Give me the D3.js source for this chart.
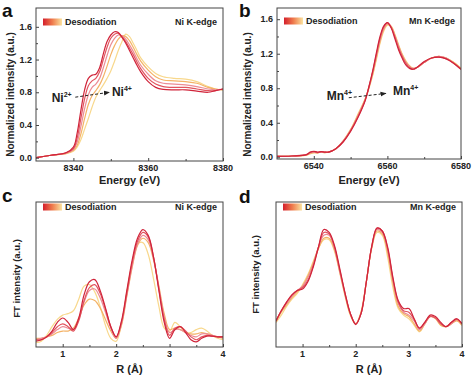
<!DOCTYPE html>
<html>
<head>
<meta charset="utf-8">
<script src="https://cdn.jsdelivr.net/npm/d3@7"></script>
<style>
  body { margin: 0; background: #fff; }
  svg { display: block; font-family: "Liberation Sans", Arial, sans-serif; }
  .tick-label { font-size: 9px; font-weight: bold; fill: #222; }
  .axis-title { font-weight: bold; fill: #222; }
</style>
</head>
<body>
<svg id="chart" width="474" height="377"></svg>
<script>
// series colours, first (red) to last (yellow) in the desodiation sequence
const seriesColors = ["#d0243a", "#e2545f", "#ec8c95", "#f4b266", "#f8d88c"];

// Ni K-edge XANES
const niEnergy = [8330, 8334, 8338, 8340, 8341, 8342, 8343, 8344, 8345, 8346, 8347, 8348, 8349, 8350, 8351, 8352, 8353, 8354, 8355, 8356, 8357, 8358, 8360, 8362, 8364, 8367, 8370, 8373, 8376, 8378, 8380];
const niXanes1 = [0.00, 0.03, 0.06, 0.13, 0.30, 0.58, 0.83, 0.97, 1.01, 1.02, 1.10, 1.27, 1.42, 1.50, 1.54, 1.53, 1.47, 1.40, 1.31, 1.22, 1.13, 1.05, 0.93, 0.86, 0.835, 0.83, 0.83, 0.815, 0.80, 0.82, 0.84];
const niXanes2 = [0.00, 0.03, 0.06, 0.11, 0.24, 0.48, 0.72, 0.88, 0.94, 0.97, 1.05, 1.20, 1.35, 1.46, 1.51, 1.52, 1.48, 1.42, 1.34, 1.26, 1.17, 1.09, 0.97, 0.90, 0.87, 0.86, 0.86, 0.84, 0.82, 0.82, 0.84];
const niXanes3 = [0.00, 0.03, 0.055, 0.10, 0.19, 0.38, 0.60, 0.77, 0.86, 0.90, 0.97, 1.10, 1.25, 1.38, 1.46, 1.50, 1.49, 1.45, 1.38, 1.30, 1.21, 1.13, 1.02, 0.94, 0.91, 0.90, 0.89, 0.87, 0.84, 0.83, 0.84];
const niXanes4 = [0.00, 0.03, 0.05, 0.09, 0.15, 0.29, 0.48, 0.65, 0.76, 0.82, 0.89, 0.99, 1.12, 1.26, 1.37, 1.45, 1.49, 1.48, 1.43, 1.35, 1.26, 1.18, 1.07, 0.99, 0.95, 0.94, 0.93, 0.91, 0.86, 0.84, 0.83];
const niXanes5 = [0.00, 0.03, 0.05, 0.08, 0.13, 0.22, 0.35, 0.48, 0.62, 0.74, 0.82, 0.89, 0.97, 1.06, 1.18, 1.31, 1.42, 1.51, 1.48, 1.40, 1.31, 1.22, 1.11, 1.03, 0.99, 0.97, 0.96, 0.93, 0.87, 0.84, 0.83];

// Mn K-edge XANES
const mnEnergy = [6530, 6534, 6538, 6539, 6540, 6541, 6542, 6543, 6544, 6546, 6548, 6550, 6552, 6554, 6555, 6556, 6557, 6558, 6559, 6560, 6561, 6562, 6563, 6564, 6565, 6566, 6567, 6568, 6570, 6572, 6574, 6576, 6578, 6580];
const mnXanes1 = [0.01, 0.015, 0.03, 0.06, 0.07, 0.06, 0.065, 0.06, 0.06, 0.10, 0.18, 0.30, 0.46, 0.66, 0.82, 1.00, 1.21, 1.40, 1.52, 1.56, 1.50, 1.38, 1.25, 1.15, 1.07, 1.03, 1.02, 1.04, 1.11, 1.15, 1.16, 1.14, 1.09, 1.02];
const mnXanes2 = [0.01, 0.015, 0.03, 0.055, 0.065, 0.055, 0.065, 0.06, 0.06, 0.10, 0.18, 0.31, 0.47, 0.67, 0.82, 0.99, 1.19, 1.38, 1.51, 1.56, 1.51, 1.40, 1.27, 1.17, 1.09, 1.04, 1.02, 1.04, 1.10, 1.15, 1.16, 1.14, 1.09, 1.02];
const mnXanes3 = [0.01, 0.015, 0.03, 0.05, 0.06, 0.055, 0.06, 0.06, 0.06, 0.10, 0.19, 0.31, 0.48, 0.67, 0.81, 0.98, 1.17, 1.36, 1.49, 1.55, 1.51, 1.41, 1.29, 1.18, 1.10, 1.05, 1.03, 1.04, 1.10, 1.15, 1.17, 1.15, 1.09, 1.02];
const mnXanes4 = [0.01, 0.015, 0.025, 0.045, 0.055, 0.05, 0.06, 0.055, 0.06, 0.10, 0.19, 0.32, 0.49, 0.68, 0.81, 0.96, 1.15, 1.34, 1.48, 1.54, 1.52, 1.42, 1.30, 1.19, 1.11, 1.06, 1.03, 1.04, 1.10, 1.15, 1.17, 1.15, 1.10, 1.03];
const mnXanes5 = [0.01, 0.015, 0.025, 0.04, 0.05, 0.05, 0.06, 0.055, 0.06, 0.10, 0.19, 0.32, 0.50, 0.68, 0.80, 0.95, 1.13, 1.32, 1.46, 1.53, 1.52, 1.43, 1.31, 1.20, 1.12, 1.06, 1.03, 1.04, 1.10, 1.15, 1.17, 1.15, 1.10, 1.03];

// Fourier transforms, R in Angstrom
const rGrid = [0.5, 0.6, 0.7, 0.8, 0.9, 1.0, 1.1, 1.2, 1.3, 1.4, 1.5, 1.6, 1.7, 1.8, 1.9, 2.0, 2.1, 2.2, 2.3, 2.4, 2.5, 2.6, 2.7, 2.8, 2.9, 3.0, 3.1, 3.2, 3.3, 3.4, 3.5, 3.6, 3.7, 3.8, 3.9, 4.0];
const niFT1 = [0.04, 0.05, 0.07, 0.11, 0.17, 0.20, 0.17, 0.12, 0.20, 0.36, 0.45, 0.465, 0.39, 0.27, 0.14, 0.07, 0.18, 0.39, 0.60, 0.75, 0.81, 0.77, 0.62, 0.39, 0.17, 0.06, 0.12, 0.14, 0.10, 0.05, 0.035, 0.06, 0.075, 0.075, 0.07, 0.07];
const niFT2 = [0.05, 0.05, 0.07, 0.10, 0.14, 0.16, 0.14, 0.11, 0.18, 0.32, 0.41, 0.43, 0.37, 0.26, 0.14, 0.07, 0.17, 0.37, 0.58, 0.73, 0.79, 0.76, 0.62, 0.40, 0.19, 0.08, 0.13, 0.14, 0.11, 0.07, 0.05, 0.07, 0.08, 0.075, 0.07, 0.07];
const niFT3 = [0.05, 0.06, 0.07, 0.09, 0.12, 0.14, 0.13, 0.12, 0.19, 0.31, 0.39, 0.40, 0.34, 0.24, 0.13, 0.06, 0.16, 0.36, 0.56, 0.71, 0.77, 0.74, 0.61, 0.41, 0.21, 0.10, 0.12, 0.12, 0.10, 0.08, 0.07, 0.09, 0.09, 0.08, 0.07, 0.07];
const niFT4 = [0.06, 0.06, 0.07, 0.08, 0.10, 0.11, 0.11, 0.13, 0.20, 0.29, 0.33, 0.32, 0.27, 0.19, 0.11, 0.06, 0.15, 0.35, 0.55, 0.70, 0.75, 0.72, 0.60, 0.42, 0.23, 0.12, 0.13, 0.12, 0.10, 0.09, 0.09, 0.10, 0.09, 0.08, 0.07, 0.06];
const niFT5 = [0.03, 0.04, 0.08, 0.14, 0.19, 0.22, 0.23, 0.25, 0.33, 0.42, 0.43, 0.38, 0.28, 0.15, 0.06, 0.04, 0.16, 0.38, 0.58, 0.71, 0.72, 0.64, 0.47, 0.28, 0.13, 0.11, 0.17, 0.14, 0.10, 0.10, 0.12, 0.13, 0.11, 0.08, 0.06, 0.05];

const mnFT1 = [0.18, 0.25, 0.31, 0.36, 0.39, 0.40, 0.45, 0.55, 0.69, 0.81, 0.79, 0.70, 0.54, 0.37, 0.23, 0.155, 0.23, 0.45, 0.69, 0.82, 0.80, 0.69, 0.48, 0.32, 0.265, 0.265, 0.195, 0.13, 0.17, 0.22, 0.21, 0.17, 0.14, 0.17, 0.195, 0.16];
const mnFT2 = [0.18, 0.25, 0.31, 0.36, 0.39, 0.41, 0.46, 0.56, 0.69, 0.79, 0.78, 0.69, 0.53, 0.37, 0.23, 0.16, 0.23, 0.45, 0.69, 0.82, 0.80, 0.68, 0.47, 0.31, 0.25, 0.24, 0.19, 0.13, 0.17, 0.21, 0.20, 0.16, 0.14, 0.17, 0.19, 0.16];
const mnFT3 = [0.18, 0.25, 0.30, 0.35, 0.39, 0.42, 0.48, 0.57, 0.69, 0.77, 0.77, 0.68, 0.52, 0.36, 0.23, 0.16, 0.23, 0.45, 0.69, 0.81, 0.79, 0.67, 0.46, 0.30, 0.24, 0.22, 0.18, 0.12, 0.16, 0.21, 0.20, 0.16, 0.14, 0.16, 0.19, 0.16];
const mnFT4 = [0.17, 0.24, 0.29, 0.34, 0.38, 0.42, 0.49, 0.58, 0.68, 0.75, 0.75, 0.67, 0.52, 0.36, 0.22, 0.16, 0.24, 0.45, 0.68, 0.80, 0.78, 0.65, 0.44, 0.28, 0.23, 0.21, 0.16, 0.11, 0.16, 0.21, 0.20, 0.15, 0.14, 0.16, 0.18, 0.15];
const mnFT5 = [0.17, 0.22, 0.28, 0.33, 0.37, 0.43, 0.50, 0.59, 0.68, 0.74, 0.74, 0.66, 0.51, 0.35, 0.22, 0.16, 0.24, 0.45, 0.68, 0.79, 0.77, 0.62, 0.41, 0.265, 0.22, 0.195, 0.15, 0.105, 0.16, 0.21, 0.195, 0.15, 0.14, 0.16, 0.185, 0.15];

// tick values
const niTicks = [8340, 8360, 8380];
const niMinor = [8350, 8370];
const mnTicks = [6540, 6560, 6580];
const mnMinor = [6550, 6570];
const xanesYTicks = [0, 0.4, 0.8, 1.2, 1.6];
const xanesYMinor = [0.2, 0.6, 1.0, 1.4];
const rTicks = [1, 2, 3, 4];
const rMinor = [1.5, 2.5, 3.5];

const svg = d3.select("#chart");

const defs = svg.append("defs");
const grad = defs.append("linearGradient").attr("id", "desod");
grad.append("stop").attr("offset", "0%").attr("stop-color", "#d41f2c");
grad.append("stop").attr("offset", "50%").attr("stop-color", "#ef7d4e");
grad.append("stop").attr("offset", "100%").attr("stop-color", "#fbe3a0");

defs.append("marker")
  .attr("id", "arrow")
  .attr("viewBox", "0 0 10 10")
  .attr("refX", 9).attr("refY", 5)
  .attr("markerWidth", 6).attr("markerHeight", 6)
  .attr("orient", "auto")
  .append("path")
  .attr("d", "M0,1 L10,5 L0,9 Z")
  .attr("fill", "#222");

function drawPanel(cfg) {
  const { box, xDomain, yDomain, xVals, series, xTicks, xMinor, yTicks, yMinor } = cfg;
  const x = d3.scaleLinear().domain(xDomain).range([box.left, box.right]);
  const y = d3.scaleLinear().domain(yDomain).range([box.bottom, box.top]);
  const g = svg.append("g");

  const clipId = "clip-" + cfg.letter;
  defs.append("clipPath").attr("id", clipId)
    .append("rect")
    .attr("x", box.left).attr("y", box.top)
    .attr("width", box.right - box.left).attr("height", box.bottom - box.top);

  const line = d3.line()
    .x((d, i) => x(xVals[i]))
    .y((d) => y(d))
    .curve(d3.curveCatmullRom.alpha(0.5));

  // last series first so the red curve ends on top
  g.append("g").attr("clip-path", `url(#${clipId})`)
    .selectAll("path")
    .data(series.map((s, i) => ({ s, i })).reverse())
    .join("path")
    .attr("d", (d) => line(d.s))
    .attr("fill", "none")
    .attr("stroke", (d) => seriesColors[d.i])
    .attr("stroke-width", 1.2);

  // frame
  g.append("rect")
    .attr("x", box.left).attr("y", box.top)
    .attr("width", box.right - box.left).attr("height", box.bottom - box.top)
    .attr("fill", "none").attr("stroke", "#444").attr("stroke-width", 1);

  // x ticks, pointing inward
  g.append("g").attr("transform", `translate(0,${box.bottom})`)
    .call(d3.axisTop(x).tickValues(xTicks).tickSize(3).tickFormat(""))
    .call((a) => a.select(".domain").remove());
  g.append("g").attr("transform", `translate(0,${box.bottom})`)
    .call(d3.axisTop(x).tickValues(xMinor).tickSize(2).tickFormat(""))
    .call((a) => a.select(".domain").remove());

  g.selectAll(".xlab")
    .data(xTicks)
    .join("text")
    .attr("class", "tick-label")
    .attr("x", (d) => x(d))
    .attr("y", box.bottom + 10)
    .attr("text-anchor", "middle")
    .text((d) => d);

  if (yTicks) {
    g.append("g").attr("transform", `translate(${box.left},0)`)
      .call(d3.axisRight(y).tickValues(yTicks).tickSize(3).tickFormat(""))
      .call((a) => a.select(".domain").remove());
    g.append("g").attr("transform", `translate(${box.left},0)`)
      .call(d3.axisRight(y).tickValues(yMinor).tickSize(2).tickFormat(""))
      .call((a) => a.select(".domain").remove());
    g.selectAll(".ylab")
      .data(yTicks)
      .join("text")
      .attr("class", "tick-label")
      .attr("x", box.left - 4)
      .attr("y", (d) => y(d) + 3.2)
      .attr("text-anchor", "end")
      .text((d) => d.toFixed(1));
  }
  g.selectAll(".tick line").attr("stroke", "#444");

  // axis titles
  g.append("text")
    .attr("class", "axis-title")
    .attr("x", (box.left + box.right) / 2)
    .attr("y", cfg.xTitleY)
    .attr("text-anchor", "middle")
    .attr("font-size", "11px")
    .text(cfg.xTitle);

  g.append("text")
    .attr("class", "axis-title")
    .attr("transform", `translate(${cfg.yTitleX},${(box.top + box.bottom) / 2 + cfg.yTitleShift}) rotate(-90)`)
    .attr("text-anchor", "middle")
    .attr("font-size", cfg.yTitleSize)
    .text(cfg.yTitle);

  // panel letter
  g.append("text")
    .attr("x", cfg.letterX).attr("y", cfg.letterY)
    .attr("font-size", "19px").attr("font-weight", "bold").attr("fill", "#111")
    .text(cfg.letter);

  // legend
  const ly = box.top + cfg.legendDy;
  g.append("rect")
    .attr("x", box.left + 7).attr("y", ly - 3.5)
    .attr("width", 19).attr("height", 7)
    .attr("fill", "url(#desod)");
  g.append("text")
    .attr("x", box.left + 29).attr("y", ly + 3.2)
    .attr("font-size", "9px").attr("font-weight", "bold").attr("fill", "#222")
    .text("Desodiation");
  g.append("text")
    .attr("x", box.right - 6).attr("y", ly + 3.2)
    .attr("text-anchor", "end")
    .attr("font-size", "9px").attr("font-weight", "bold").attr("fill", "#222")
    .text(cfg.edge);

  return { x, y, g };
}

function ionLabel(g, px, py, base, sup) {
  const t = g.append("text")
    .attr("x", px).attr("y", py)
    .attr("font-size", "12px").attr("font-weight", "bold").attr("fill", "#222");
  t.append("tspan").text(base);
  t.append("tspan").attr("dy", -5).attr("font-size", "7px").text(sup);
}

const a = drawPanel({
  letter: "a", letterX: 2, letterY: 17,
  box: { left: 36, right: 223, top: 8, bottom: 161 },
  xDomain: [8330, 8380], yDomain: [-0.04, 1.83],
  xVals: niEnergy,
  series: [niXanes1, niXanes2, niXanes3, niXanes4, niXanes5],
  xTicks: niTicks, xMinor: niMinor, yTicks: xanesYTicks, yMinor: xanesYMinor,
  xTitle: "Energy (eV)", xTitleY: 184,
  yTitle: "Normalized intensity (a.u.)", yTitleX: 13.5, yTitleShift: 10, yTitleSize: "10px",
  legendDy: 14, edge: "Ni K-edge"
});
ionLabel(a.g, a.x(8334.2), a.y(0.68), "Ni", "2+");
a.g.append("line")
  .attr("x1", a.x(8340.5)).attr("y1", a.y(0.74))
  .attr("x2", a.x(8349.6)).attr("y2", a.y(0.80))
  .attr("stroke", "#222").attr("stroke-width", 1)
  .attr("stroke-dasharray", "3,2")
  .attr("marker-end", "url(#arrow)");
ionLabel(a.g, a.x(8350.3), a.y(0.76), "Ni", "4+");

const b = drawPanel({
  letter: "b", letterX: 239, letterY: 17,
  box: { left: 277, right: 461, top: 8, bottom: 159 },
  xDomain: [6530, 6580], yDomain: [-0.02, 1.73],
  xVals: mnEnergy,
  series: [mnXanes1, mnXanes2, mnXanes3, mnXanes4, mnXanes5],
  xTicks: mnTicks, xMinor: mnMinor, yTicks: xanesYTicks, yMinor: xanesYMinor,
  xTitle: "Energy (eV)", xTitleY: 184,
  yTitle: "Normalized intensity (a.u.)", yTitleX: 251, yTitleShift: 11, yTitleSize: "10px",
  legendDy: 13, edge: "Mn K-edge"
});
ionLabel(b.g, b.x(6543.5), b.y(0.66), "Mn", "4+");
b.g.append("line")
  .attr("x1", b.x(6549.5)).attr("y1", b.y(0.69))
  .attr("x2", b.x(6559.6)).attr("y2", b.y(0.74))
  .attr("stroke", "#222").attr("stroke-width", 1)
  .attr("stroke-dasharray", "3,2")
  .attr("marker-end", "url(#arrow)");
ionLabel(b.g, b.x(6561.5), b.y(0.72), "Mn", "4+");

drawPanel({
  letter: "c", letterX: 2, letterY: 202,
  box: { left: 36, right: 223, top: 202, bottom: 347 },
  xDomain: [0.5, 4], yDomain: [0, 1],
  xVals: rGrid,
  series: [niFT1, niFT2, niFT3, niFT4, niFT5],
  xTicks: rTicks, xMinor: rMinor,
  xTitle: "R (Å)", xTitleY: 373,
  yTitle: "FT intensity (a.u.)", yTitleX: 20, yTitleShift: 4, yTitleSize: "9.5px",
  legendDy: 5, edge: "Ni K-edge"
});

drawPanel({
  letter: "d", letterX: 239, letterY: 203,
  box: { left: 276, right: 462, top: 202, bottom: 347 },
  xDomain: [0.5, 4], yDomain: [0, 1],
  xVals: rGrid,
  series: [mnFT1, mnFT2, mnFT3, mnFT4, mnFT5],
  xTicks: rTicks, xMinor: rMinor,
  xTitle: "R (Å)", xTitleY: 373,
  yTitle: "FT intensity (a.u.)", yTitleX: 259, yTitleShift: 0, yTitleSize: "9.5px",
  legendDy: 5, edge: "Mn K-edge"
});
</script>
</body>
</html>
